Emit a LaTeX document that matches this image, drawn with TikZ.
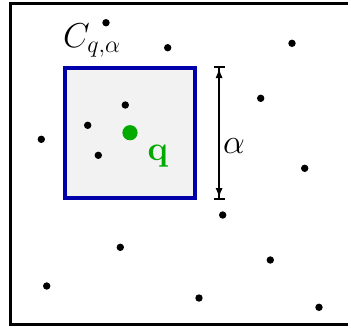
\documentclass[tikz,border=0pt]{standalone}
\usetikzlibrary{arrows.meta}
\definecolor{cellblue}{RGB}{0,0,170}
\definecolor{qgreen}{RGB}{0,170,0}
\definecolor{cellgray}{RGB}{242,242,242}
\begin{document}
\begin{tikzpicture}[
    x=0.5pt, y=-0.5pt,
    frame/.style={draw, line width=1.6pt},
    cell/.style={draw=cellblue, fill=cellgray, line width=2pt, minimum size=65pt, inner sep=0pt},
    dot/.style={circle, fill=black, minimum size=3.7pt, inner sep=0pt},
    query/.style={circle, fill=qgreen, minimum size=7.6pt, inner sep=0pt},
    dim/.style={{Bar[width=5.5pt]Latex[length=5pt,width=3.6pt]}-{Latex[length=5pt,width=3.6pt]Bar[width=5.5pt]}, line width=1pt},
    lbl/.style={font=\fontsize{16.5}{19}\selectfont, inner sep=0pt}
]
\useasboundingbox (0,0) rectangle (348,328);

% Outer frame (runs off the right edge)
\draw[frame] (360,3.5) -- (10.5,3.5) -- (10.5,324.5) -- (360,324.5);

% Query cell
\node[cell] (cell) at (129.7,133) {};
\node[lbl, anchor=south west] (cname) at ([yshift=4pt]cell.north west) {$C_{q,\alpha}$};

% Data points
\node[dot] (p1) at (106,22.7) {};
\node[dot] (p2) at (167.7,47.7) {};
\node[dot] (p3) at (292,43.3) {};
\node[dot] (p4) at (260.7,98.3) {};
\node[dot] (p5) at (125.3,105) {};
\node[dot] (p6) at (87.7,125.3) {};
\node[dot] (p7) at (41.3,139.3) {};
\node[dot] (p8) at (98.3,155.3) {};
\node[dot] (p9) at (304.7,168.3) {};
\node[dot] (p10) at (222.7,215) {};
\node[dot] (p11) at (120.3,247.3) {};
\node[dot] (p12) at (270.3,260) {};
\node[dot] (p13) at (46.7,286) {};
\node[dot] (p14) at (199,298) {};
\node[dot] (p15) at (319,307.3) {};

% Query point
\node[query] (q) at (130,132.7) {};
\node[lbl, text=qgreen] (qname) at (158,156) {$\mathbf{q}$};

% Side length
\coordinate (dtop) at ([xshift=11.2pt]cell.north east);
\coordinate (dbot) at ([xshift=11.2pt]cell.south east);
\draw[dim] (dtop) -- (dbot);
\node[lbl] (alpha) at (234,145.7) {$\alpha$};
\end{tikzpicture}
\end{document}
